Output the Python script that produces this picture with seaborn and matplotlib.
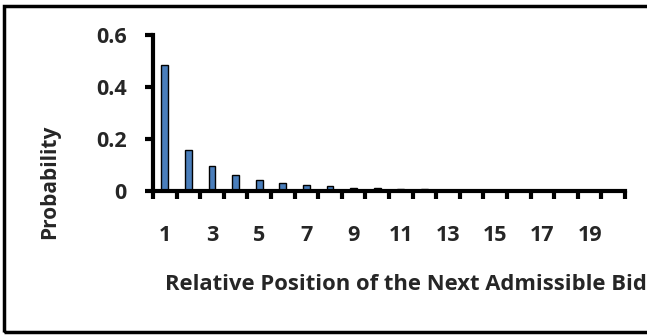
#!/usr/bin/env python3
import matplotlib
matplotlib.use("Agg")
import matplotlib.pyplot as plt
from matplotlib.patches import Rectangle
from matplotlib.ticker import FixedLocator
import pandas as pd
import seaborn as sns

positions = [str(i) for i in range(1, 21)]
probability = [0.484, 0.158, 0.094, 0.062, 0.043, 0.031, 0.023, 0.017, 0.012, 0.009,
               0.007, 0.005, 0.004, 0.003, 0.002, 0.002, 0.001, 0.001, 0.001, 0.001]
y_ticks = [0, 0.2, 0.4, 0.6]
y_tick_labels = ["0", "0.2", "0.4", "0.6"]
x_label_every = 2


def main() -> None:
    df = pd.DataFrame({"position": positions, "probability": probability})

    sns.set_theme(style="white")
    plt.rcParams["font.family"] = ["Open Sans", "DejaVu Sans"]
    plt.rcParams["font.weight"] = "bold"

    fig = plt.figure(figsize=(6.47, 3.35), dpi=100)
    ax = fig.add_axes([153 / 647, 1 - 190.7 / 335, 472 / 647, 155.7 / 335])

    sns.barplot(
        data=df,
        x="position",
        y="probability",
        order=positions,
        color="#4a7ebb",
        saturation=1,
        edgecolor="black",
        linewidth=1.0,
        width=0.28,
        ax=ax,
    )

    ax.set_xlim(-0.5, len(positions) - 0.5)
    ax.set_ylim(0, 0.6)
    ax.set_yticks(y_ticks)
    ax.set_yticklabels(y_tick_labels, fontsize=15.5, fontweight="bold")

    major = list(range(0, len(positions), x_label_every))
    ax.set_xticks(major)
    ax.set_xticklabels([positions[i] for i in major], fontsize=15.5, fontweight="bold")
    ax.xaxis.set_minor_locator(FixedLocator([i - 0.5 for i in range(len(positions) + 1)]))
    ax.tick_params(axis="x", which="major", length=0, pad=25, bottom=True)
    ax.tick_params(axis="x", which="minor", direction="out", length=6, width=3,
                   color="black", bottom=True)
    ax.tick_params(axis="y", direction="out", length=6, width=3, color="black", pad=13, left=True)

    for side in ["top", "right"]:
        ax.spines[side].set_visible(False)
    for side in ["left", "bottom"]:
        ax.spines[side].set_linewidth(3)
        ax.spines[side].set_color("black")

    ax.set_xlabel("Relative Position of the Next Admissible Bid", fontsize=15.8, fontweight="bold")
    ax.xaxis.set_label_coords(0.536, -0.605)
    ax.xaxis.label.set_va("center")
    ax.set_ylabel("Probability", fontsize=15, fontweight="bold")
    ax.yaxis.set_label_coords(-0.22, 0.06)
    ax.yaxis.label.set_va("center")
    ax.grid(False)

    fig.patches.append(Rectangle((4 / 647, 3 / 335), 1.0, 1 - 9 / 335,
                                 transform=fig.transFigure, fill=False,
                                 edgecolor="black", linewidth=2.5))

    fig.savefig("out.png", dpi=100)
    plt.close(fig)


if __name__ == "__main__":
    main()
